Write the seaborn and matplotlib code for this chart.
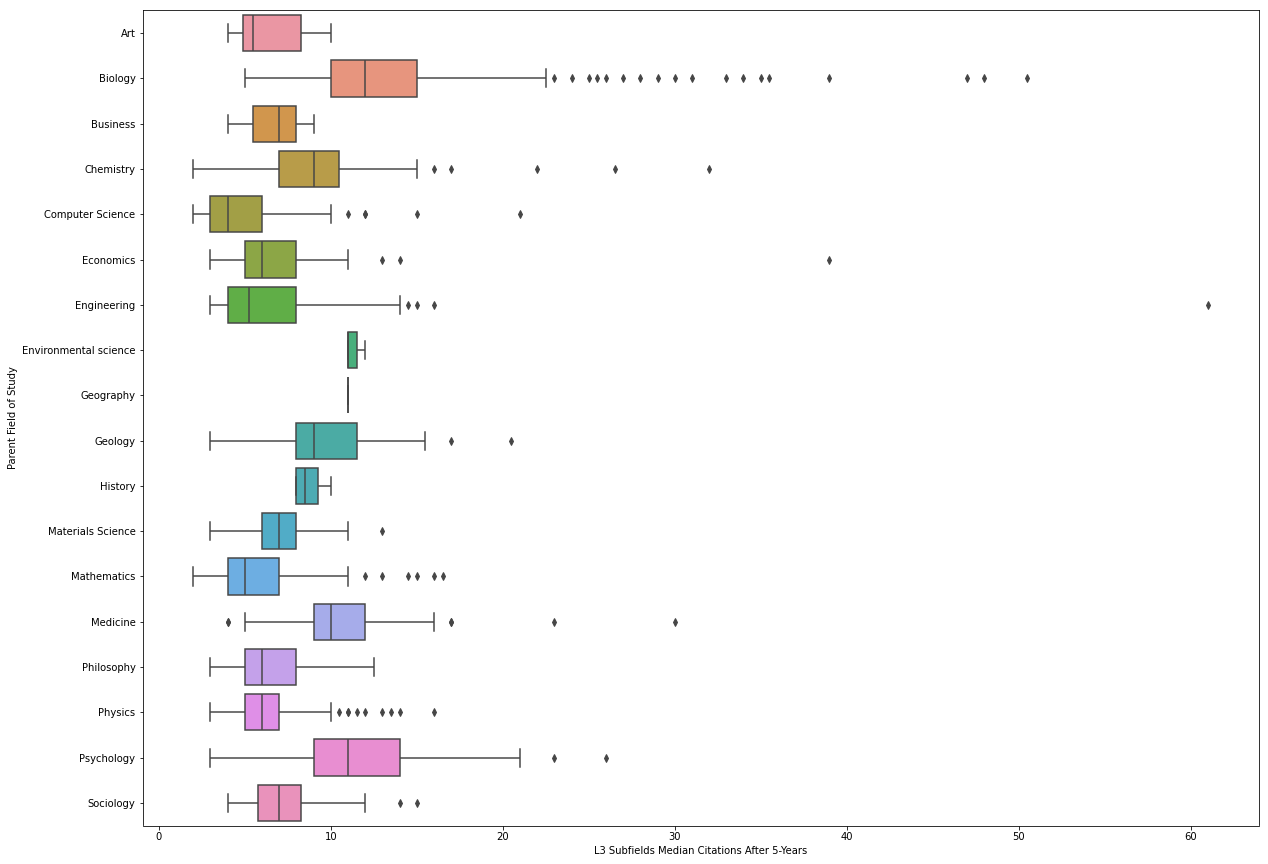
import colorsys
import pandas as pd
import seaborn as sns
import matplotlib
matplotlib.use("Agg")
import matplotlib.pyplot as plt

# %% Data: per-field values of L3 subfield median citations

fields = ["Art", "Biology", "Business", "Chemistry", "Computer Science",
          "Economics", "Engineering", "Environmental science", "Geography",
          "Geology", "History", "Materials Science", "Mathematics",
          "Medicine", "Philosophy", "Physics", "Psychology", "Sociology"]

art = [4, 4.5, 5, 5, 6, 8, 9, 10]
biology = [5, 6, 6.5, 7, 7, 7.5, 8, 8, 8, 8.5, 8.5, 9, 9, 9, 9.5, 9.5, 9.5, 10, 10, 10,
           10, 10, 10.5, 10.5, 10.5, 11, 11, 11, 11, 11, 11.5, 11.5, 11.5, 12, 12, 12, 12, 12, 12,
           12, 12.5, 12.5, 13, 13, 13, 13, 13.5, 13.5, 14, 14, 14, 14, 14.5, 14.5, 15, 15, 15, 15,
           22.5, 23, 24, 25, 25.5, 26, 27, 28, 29, 30, 31, 33, 34, 35, 35.5, 39, 47, 48, 50.5]
business = [4, 5, 5.5, 6, 7, 7.5, 8, 8.5, 9]
chemistry = [2, 4, 5, 6, 6.5, 7, 7, 7.5, 8, 8, 8.5, 9, 9, 9, 9.5, 10, 10, 10.5, 10.5,
             15, 16, 17, 22, 26.5, 32]
computer_science = [2, 2, 2.5, 3, 3, 3, 3, 3, 3.5, 3.5, 4, 4, 4, 4.5, 5, 5, 5.5, 6, 6,
                    10, 11, 12, 12, 15, 21]
economics = [3, 4, 4.5, 5, 5, 5, 5.5, 6, 6, 6.5, 7, 7.5, 8, 11, 13, 14, 39]
engineering = [3, 3, 3.5, 4, 4, 4, 4, 4.5, 4.5, 5, 5, 5.5, 6, 6.5, 7, 8, 8,
               14, 14.5, 15, 16, 61]
environmental_science = [11, 11, 11, 11.5, 12]
geography = [11, 11, 11]
geology = [3, 6, 7.5, 8, 8.5, 9, 9, 10, 11, 11.5, 15.5, 17, 20.5]
history = [8, 8, 9, 10]
materials_science = [3, 5, 6, 6.5, 7, 7.5, 8, 11, 13]
mathematics = [2, 2.5, 3, 3, 3.5, 4, 4, 4, 4, 4.5, 4.5, 5, 5, 5, 5, 5.5, 6, 6, 6.5, 7, 7, 7,
               11, 12, 13, 14.5, 15, 16, 16.5]
medicine = [4, 4, 5, 7, 8, 9, 9, 9.5, 10, 10, 10, 10.5, 11, 11, 11.5, 12,
            16, 17, 17, 23, 30]
philosophy = [3, 4, 5, 5.5, 6, 7, 8, 10, 12.5]
physics = [3, 3.5, 4, 4, 4, 4.5, 4.5, 5, 5, 5, 5, 5, 5, 5.5, 5.5, 5.5, 6, 6, 6, 6, 6,
           6, 6, 6.5, 6.5, 6.5, 6.5, 7, 7, 7, 7,
           10, 10.5, 11, 11, 11.5, 12, 13, 13.5, 14, 16]
psychology = [3, 6, 8, 9, 10, 10.5, 11, 12, 13, 14, 21, 23, 26]
sociology = [4, 4.5, 5, 5.5, 6.5, 7, 7, 7, 7, 7.5, 8.5, 12, 14, 15]

series = [art, biology, business, chemistry, computer_science, economics,
          engineering, environmental_science, geography, geology, history,
          materials_science, mathematics, medicine, philosophy, physics,
          psychology, sociology]

df = pd.DataFrame({
    "Parent Field of Study": [f for f, vals in zip(fields, series) for _ in vals],
    "L3 Subfields Median Citations After 5-Years": [v for vals in series for v in vals],
})

# %% Horizontal boxplot (old-seaborn look: husl l=.7, gray from darkest box)

palette = sns.husl_palette(len(fields), l=.7)
lum = min(colorsys.rgb_to_hls(*sns.desaturate(c, .75))[1] for c in palette) * .6
gray = (lum, lum, lum)

fig = plt.figure(figsize=(1268 / 72, 864 / 72), dpi=72)
ax = fig.add_axes([142.5 / 1268, 1 - 825.5 / 864, (1258.5 - 142.5) / 1268, (825.5 - 10.5) / 864])

sns.boxplot(data=df, x="L3 Subfields Median Citations After 5-Years",
            y="Parent Field of Study", hue="Parent Field of Study",
            order=fields, hue_order=fields, palette=palette, saturation=0.75,
            legend=False, width=0.8, linewidth=1.5, linecolor=gray,
            flierprops={"marker": "d", "markersize": 5,
                        "markerfacecolor": gray, "markeredgecolor": gray},
            ax=ax)

fig.savefig("out.png", dpi=72)
